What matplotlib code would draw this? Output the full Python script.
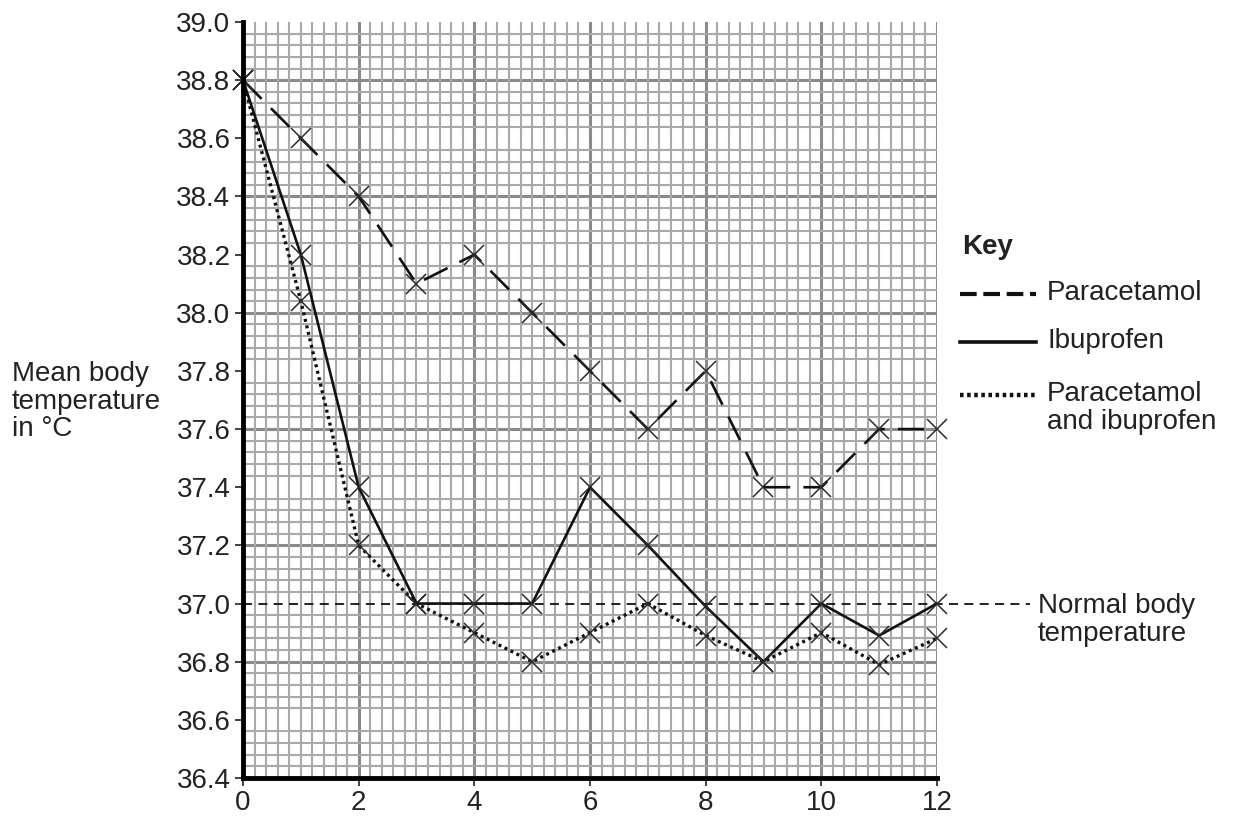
import matplotlib.pyplot as plt
from matplotlib.lines import Line2D
from matplotlib.ticker import MultipleLocator

plt.rcParams['font.family'] = ['Liberation Sans', 'DejaVu Sans']

hours = [0, 1, 2, 3, 4, 5, 6, 7, 8, 9, 10, 11, 12]
paracetamol = [38.8, 38.6, 38.4, 38.1, 38.2, 38.0, 37.8, 37.6, 37.8, 37.4, 37.4, 37.6, 37.6]
ibuprofen = [38.8, 38.2, 37.4, 37.0, 37.0, 37.0, 37.4, 37.2, 36.99, 36.8, 37.0, 36.89, 37.0]
combined = [38.8, 38.04, 37.2, 37.0, 36.9, 36.8, 36.9, 37.0, 36.89, 36.8, 36.9, 36.79, 36.88]
normal_temp = 37.0

x_ticks = [0, 2, 4, 6, 8, 10, 12]
y_ticks = [36.4, 36.6, 36.8, 37.0, 37.2, 37.4, 37.6, 37.8, 38.0, 38.2, 38.4, 38.6, 38.8, 39.0]

FS = 20

fig = plt.figure(figsize=(12.38, 8.16), dpi=100)
ax = fig.add_axes([243/1238, 1-778/816, 694/1238, 756/816])

ax.set_xlim(0, 12)
ax.set_ylim(36.4, 39.0)

# graph paper grid
ax.xaxis.set_minor_locator(MultipleLocator(0.2))
ax.yaxis.set_minor_locator(MultipleLocator(0.04))
ax.grid(which='minor', color='#a9a9a9', linewidth=1.5, zorder=0)
for gx in range(0, 13, 2):
    ax.axvline(gx, color='#8a8a8a', linewidth=2.2, zorder=0.5)
for i in range(7):
    ax.axhline(36.8 + 0.4 * i, color='#8a8a8a', linewidth=2.2, zorder=0.5)
ax.set_axisbelow(True)

ax.plot(hours, paracetamol, color='#111111', lw=1.9, ls=(0, (10, 5)),
        marker='x', ms=14, mew=1.1, mec='#2a2a2a', zorder=3, clip_on=False)
ax.plot(hours, ibuprofen, color='#111111', lw=1.9, ls='-',
        marker='x', ms=14, mew=1.1, mec='#2a2a2a', zorder=3, clip_on=False)
ax.plot(hours, combined, color='#111111', lw=2.4, ls=(0, (0.9, 1.1)),
        marker='x', ms=14, mew=1.1, mec='#2a2a2a', zorder=3, clip_on=False)

ax.axhline(normal_temp, xmin=0, xmax=(1030-243)/694, color='#111111', lw=1.3,
           ls=(0, (5, 3.5)), clip_on=False, zorder=2.5)
ax.text((1038-243)/694, normal_temp + 0.035, 'Normal body\ntemperature',
        transform=ax.get_yaxis_transform(), ha='left', va='top',
        fontsize=FS, color='#222222', linespacing=1.08)

ax.set_xticks(x_ticks)
ax.set_yticks(y_ticks)
ax.set_yticklabels([f'{v:.1f}' for v in y_ticks])
ax.tick_params(axis='both', which='major', labelsize=FS, colors='#222222',
               length=6, width=1.2, direction='out')
ax.tick_params(axis='both', which='minor', length=0)
ax.tick_params(axis='x', pad=3)
ax.tick_params(axis='y', pad=3)

for s in ['top', 'right']:
    ax.spines[s].set_visible(False)
for s in ['left', 'bottom']:
    ax.spines[s].set_linewidth(3.5)
    ax.spines[s].set_color('black')
    ax.spines[s].set_zorder(4)

fig.text(12/1238, 1-361/816, 'Mean body\ntemperature\nin \u00b0C', ha='left', va='top',
         fontsize=FS, color='#222222', linespacing=1.08)

# key
fig.text(962/1238, 1-247/816, 'Key', ha='left', va='center', fontsize=FS,
         fontweight='bold', color='#222222')
key_items = [
    ('Paracetamol', (0, (4, 1.6)), 3.0, 294),
    ('Ibuprofen', '-', 2.6, 342),
    ('Paracetamol\nand ibuprofen', (0, (0.8, 0.8)), 3.2, 395),
]
for label, ls, lw, ypx in key_items:
    yf = 1 - ypx/816
    fig.add_artist(Line2D([960/1238, 1036/1238], [yf, yf], color='#111111',
                          lw=lw, ls=ls))
    fig.text(1047/1238, yf + 14/816, label, ha='left', va='top', fontsize=FS,
             color='#222222', linespacing=1.08)

fig.savefig('out.png', dpi=100)
